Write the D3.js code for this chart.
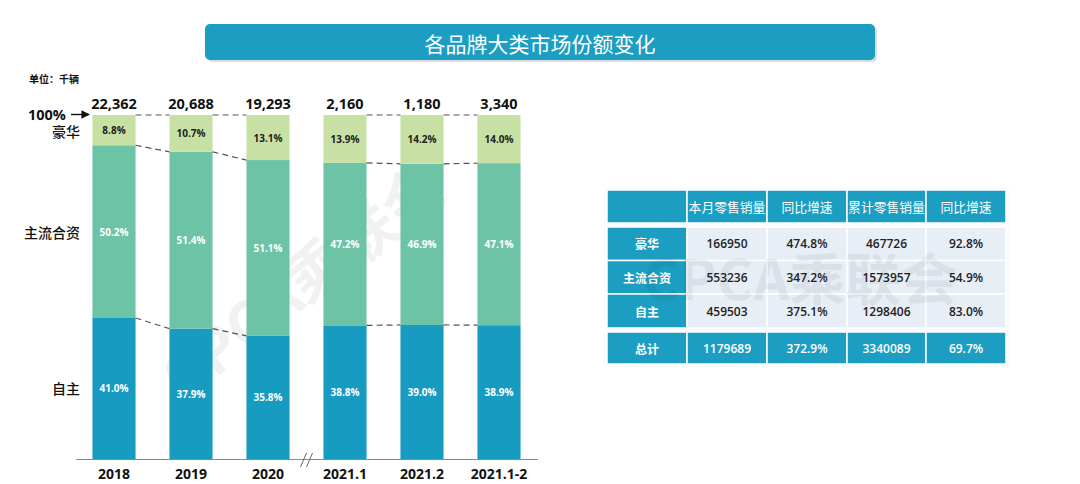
<!DOCTYPE html>
<html>
<head>
<meta charset="utf-8">
<script src="https://cdn.jsdelivr.net/npm/d3@7"></script>
<style>
  body { margin: 0; background: #fff; }
  svg { display: block; }
</style>
</head>
<body>
<svg id="chart" width="1080" height="484"></svg>
<script>
// chart data (shares in %)
const categories = ['2018', '2019', '2020', '2021.1', '2021.2', '2021.1-2']
const totals = ['22,362', '20,688', '19,293', '2,160', '1,180', '3,340']
const domestic = [41.0, 37.9, 35.8, 38.8, 39.0, 38.9]
const mainstream = [50.2, 51.4, 51.1, 47.2, 46.9, 47.1]
const luxury = [8.8, 10.7, 13.1, 13.9, 14.2, 14.0]
const seriesKeys = ['domestic', 'mainstream', 'luxury']
const seriesNames = ['自主', '主流合资', '豪华']

// table data
const tableHead = ['', '本月零售销量', '同比增速', '累计零售销量', '同比增速']
const tableRowNames = ['豪华', '主流合资', '自主', '总计']
const monthSales = ['166950', '553236', '459503', '1179689']
const monthGrowth = ['474.8%', '347.2%', '375.1%', '372.9%']
const ytdSales = ['467726', '1573957', '1298406', '3340089']
const ytdGrowth = ['92.8%', '54.9%', '83.0%', '69.7%']

const font = "'Open Sans', 'Noto Sans CJK SC', sans-serif"
const cjk = "'Noto Sans CJK SC', sans-serif"
const colors = { domestic: '#189bc0', mainstream: '#6cc3a6', luxury: '#c7e1a5' }
const blue = '#1b9ec1'

const svg = d3.select('#chart')

// title bar
svg.append('rect')
  .attr('x', 207).attr('y', 26).attr('width', 670).attr('height', 36)
  .attr('rx', 5).attr('fill', '#dcdcdc')
svg.append('rect')
  .attr('x', 205).attr('y', 24).attr('width', 670).attr('height', 36)
  .attr('rx', 5).attr('fill', blue)
svg.append('text')
  .attr('x', 540).attr('y', 43)
  .attr('text-anchor', 'middle').attr('dominant-baseline', 'central')
  .attr('fill', '#fff').attr('font-family', cjk).attr('font-size', 21)
  .text('各品牌大类市场份额变化')

svg.append('text')
  .attr('x', 29).attr('y', 83)
  .attr('font-family', cjk).attr('font-size', 10).attr('font-weight', 700)
  .attr('fill', '#111')
  .text('单位：千辆')

// stacked bars
const rows = categories.map(function (c, i) {
  return { cat: c, domestic: domestic[i], mainstream: mainstream[i], luxury: luxury[i] }
})
const stacked = d3.stack().keys(seriesKeys).offset(d3.stackOffsetExpand)(rows)

const x = d3.scaleBand()
  .domain(categories)
  .range([75.5, 537.5])
  .paddingInner(0.44)
  .paddingOuter(0.22)
const y = d3.scaleLinear().domain([0, 1]).range([459, 115])

// watermark behind bars
svg.append('text')
  .attr('transform', 'translate(300,278) rotate(-38)')
  .attr('text-anchor', 'middle').attr('dominant-baseline', 'central')
  .attr('font-family', cjk).attr('font-size', 60).attr('font-weight', 700)
  .attr('fill', '#000').attr('opacity', 0.05)
  .text('CPCA乘联会')

const layer = svg.selectAll('.layer')
  .data(stacked)
  .enter()
  .append('g')
  .attr('class', 'layer')
  .attr('fill', function (d) { return colors[d.key] })

layer.selectAll('rect')
  .data(function (d) { return d })
  .enter()
  .append('rect')
  .attr('x', function (d) { return x(d.data.cat) })
  .attr('width', x.bandwidth())
  .attr('y', function (d) { return y(d[1]) })
  .attr('height', function (d) { return y(d[0]) - y(d[1]) })

layer.selectAll('text')
  .data(function (d) { return d.map(function (v) { return { v: v, key: d.key } }) })
  .enter()
  .append('text')
  .attr('x', function (d) { return x(d.v.data.cat) + x.bandwidth() / 2 })
  .attr('y', function (d) { return y((d.v[0] + d.v[1]) / 2) })
  .attr('text-anchor', 'middle').attr('dominant-baseline', 'central')
  .attr('font-family', font).attr('font-size', 10).attr('font-weight', 700)
  .attr('fill', function (d) { return d.key === 'luxury' ? '#222' : '#fff' })
  .text(function (d) { return d.v.data[d.key].toFixed(1) + '%' })

// dashed connectors (none across the axis break)
const connectors = []
for (let i = 0; i < categories.length - 1; i++) {
  if (i === 2) continue
  stacked.forEach(function (s) {
    connectors.push({
      x1: x(categories[i]) + x.bandwidth(), y1: y(s[i][1]),
      x2: x(categories[i + 1]), y2: y(s[i + 1][1])
    })
  })
}
svg.selectAll('.conn')
  .data(connectors)
  .enter()
  .append('line')
  .attr('class', 'conn')
  .attr('x1', function (d) { return d.x1 }).attr('y1', function (d) { return d.y1 })
  .attr('x2', function (d) { return d.x2 }).attr('y2', function (d) { return d.y2 })
  .attr('stroke', '#555').attr('stroke-width', 1.2).attr('stroke-dasharray', '6,4')

// totals above bars
svg.selectAll('.total')
  .data(categories)
  .enter()
  .append('text')
  .attr('class', 'total')
  .attr('x', function (d) { return x(d) + x.bandwidth() / 2 })
  .attr('y', 109)
  .attr('text-anchor', 'middle')
  .attr('font-family', font).attr('font-size', 14.5).attr('font-weight', 700)
  .attr('fill', '#111')
  .text(function (d, i) { return totals[i] })

// x axis
const xAxis = svg.append('g')
  .attr('transform', 'translate(0,459)')
  .call(d3.axisBottom(x).tickSize(0).tickPadding(10))
xAxis.select('.domain').attr('stroke', '#8a8a8a').attr('stroke-width', 1)
xAxis.selectAll('text')
  .attr('font-family', font).attr('font-size', 14).attr('font-weight', 700)
  .attr('fill', '#111')

// axis break mark
const breakX = (x(categories[2]) + x.bandwidth() + x(categories[3])) / 2
;[-3, 3].forEach(function (dx) {
  svg.append('line')
    .attr('x1', breakX + dx - 3).attr('y1', 467)
    .attr('x2', breakX + dx + 3).attr('y2', 453)
    .attr('stroke', '#666').attr('stroke-width', 1)
})

// left legend labels, at the 2018 segment middles
svg.append('defs').append('marker')
  .attr('id', 'arrow').attr('viewBox', '0 0 10 10')
  .attr('refX', 9).attr('refY', 5)
  .attr('markerWidth', 6).attr('markerHeight', 6)
  .attr('orient', 'auto')
  .append('path').attr('d', 'M0,0 L10,5 L0,10 z').attr('fill', '#111')

svg.append('text')
  .attr('x', 28).attr('y', 120)
  .attr('font-family', font).attr('font-size', 14.5).attr('font-weight', 700)
  .attr('fill', '#111')
  .text('100%')
svg.append('line')
  .attr('x1', 71).attr('y1', 114.5).attr('x2', 89).attr('y2', 114.5)
  .attr('stroke', '#111').attr('stroke-width', 1.4)
  .attr('marker-end', 'url(#arrow)')

svg.selectAll('.serieslabel')
  .data(stacked)
  .enter()
  .append('text')
  .attr('class', 'serieslabel')
  .attr('x', 80)
  .attr('y', function (d) { return y((d[0][0] + d[0][1]) / 2) + (d.key === 'luxury' ? 1 : 0) })
  .attr('text-anchor', 'end').attr('dominant-baseline', 'central')
  .attr('font-family', cjk).attr('font-size', 14).attr('font-weight', 500)
  .attr('fill', '#111')
  .text(function (d, i) { return seriesNames[i] })

// table
const colEdges = [607, 687, 767, 847, 926, 1006]
const rowTops = [190, 227, 260.5, 294, 332]
const rowHeights = [33, 33.5, 33.5, 34, 32]
const tableRows = [tableHead].concat(tableRowNames.map(function (n, i) {
  return [n, monthSales[i], monthGrowth[i], ytdSales[i], ytdGrowth[i]]
}))

const cells = []
tableRows.forEach(function (r, ri) {
  r.forEach(function (v, ci) {
    const isBlue = ri === 0 || ri === tableRows.length - 1 || ci === 0
    cells.push({
      x: colEdges[ci], w: colEdges[ci + 1] - colEdges[ci],
      y: rowTops[ri], h: rowHeights[ri],
      text: v, blue: isBlue, head: ri === 0, label: ci === 0
    })
  })
})

const table = svg.append('g')
table.append('rect')
  .attr('x', 604).attr('y', 187).attr('width', 405).attr('height', 180)
  .attr('fill', '#fafbfc')
table.selectAll('rect.cell')
  .data(cells)
  .enter()
  .append('rect')
  .attr('class', 'cell')
  .attr('x', function (d) { return d.x }).attr('y', function (d) { return d.y })
  .attr('width', function (d) { return d.w }).attr('height', function (d) { return d.h })
  .attr('fill', function (d) { return d.blue ? blue : '#e7eef6' })
  .attr('stroke', '#fff').attr('stroke-width', 1.5)
table.selectAll('text.cell')
  .data(cells)
  .enter()
  .append('text')
  .attr('class', 'cell')
  .attr('x', function (d) { return d.x + d.w / 2 })
  .attr('y', function (d) { return d.y + d.h / 2 })
  .attr('text-anchor', 'middle').attr('dominant-baseline', 'central')
  .attr('font-family', function (d) { return d.head || d.label ? cjk : font })
  .attr('font-size', function (d) { return d.head ? 12.8 : 12 })
  .attr('font-weight', function (d) { return d.head ? 400 : (d.label ? 700 : 600) })
  .attr('fill', function (d) { return d.blue ? '#fff' : '#222' })
  .text(function (d) { return d.text })

// watermark over the table
svg.append('text')
  .attr('x', 800).attr('y', 275)
  .attr('text-anchor', 'middle').attr('dominant-baseline', 'central')
  .attr('font-family', cjk).attr('font-size', 56).attr('font-weight', 700)
  .attr('fill', '#000').attr('opacity', 0.05)
  .text('CPCA乘联会')
</script>
</body>
</html>
